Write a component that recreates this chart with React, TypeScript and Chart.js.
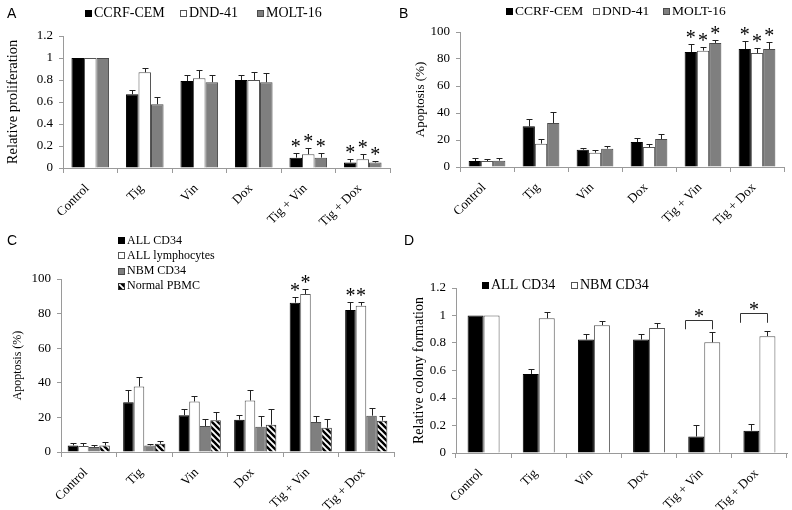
import React, { useEffect, useRef } from "react";
import { Chart, registerables } from "chart.js";

Chart.register(...registerables);

const SERIF = "'Liberation Serif', 'Times New Roman', serif";
const SANS = "'Liberation Sans', Arial, sans-serif";
const AXIS = "#9a9a9a";

const categories = ["Control", "Tig", "Vin", "Dox", "Tig + Vin", "Tig + Dox"];

// Panel A - relative proliferation
const aLabels = ["CCRF-CEM", "DND-41", "MOLT-16"];
const aCCRF = [1.0, 0.67, 0.79, 0.8, 0.094, 0.05];
const aCCRFErr = [0, 0.04, 0.055, 0.045, 0.04, 0.03];
const aDND = [1.0, 0.87, 0.815, 0.8, 0.125, 0.08];
const aDNDErr = [0, 0.035, 0.075, 0.075, 0.06, 0.05];
const aMOLT = [1.0, 0.58, 0.78, 0.78, 0.094, 0.05];
const aMOLTErr = [0, 0.07, 0.065, 0.085, 0.04, 0.01];
const aStars = [false, false, false, false, true, true];
const aTicks = [0, 0.2, 0.4, 0.6, 0.8, 1, 1.2];

// Panel B - apoptosis (%) cell lines
const bLabels = ["CCRF-CEM", "DND-41", "MOLT-16"];
const bCCRF = [4.4, 30.1, 12.8, 18.5, 85.2, 87.4];
const bCCRFErr = [2.5, 5.7, 1.5, 3.2, 5.7, 6.0];
const bDND = [4.4, 17.3, 10.6, 14.8, 86.2, 84.4];
const bDNDErr = [1.8, 3.7, 1.7, 2.0, 2.7, 3.7];
const bMOLT = [4.7, 32.6, 13.6, 20.7, 91.9, 87.4];
const bMOLTErr = [2.0, 8.0, 1.7, 3.7, 2.4, 5.4];
const bStars = [false, false, false, false, true, true];
const bTicks = [0, 20, 40, 60, 80, 100];

// Panel C - apoptosis (%) primary cells
const cLabels = ["ALL CD34", "ALL lymphocytes", "NBM CD34", "Normal PBMC"];
const cAllCD34 = [3.8, 28.7, 21.3, 18.7, 86.3, 82.1];
const cAllCD34Err = [1.4, 7.3, 3.7, 2.8, 3.1, 4.6];
const cAllLym = [3.5, 37.9, 29.2, 29.8, 91.3, 84.6];
const cAllLymErr = [1.7, 5.2, 2.9, 6.3, 2.7, 2.3];
const cNbm = [2.9, 3.8, 15.0, 14.6, 17.3, 21.0];
const cNbmErr = [1.3, 1.0, 4.0, 6.4, 3.7, 4.4];
const cPbmc = [3.8, 4.8, 18.3, 15.8, 14.0, 18.1];
const cPbmcErr = [1.8, 1.4, 4.8, 9.2, 5.0, 2.9];
const cStars = [false, false, false, false, true, true];
const cNoStars = [false, false, false, false, false, false];
const cTicks = [0, 20, 40, 60, 80, 100];

// Panel D - relative colony formation
const dLabels = ["ALL CD34", "NBM CD34"];
const dAll = [1.0, 0.575, 0.825, 0.825, 0.12, 0.162];
const dAllErr = [0, 0.035, 0.04, 0.043, 0.085, 0.048];
const dNbm = [1.0, 0.98, 0.93, 0.91, 0.805, 0.85];
const dNbmErr = [0, 0.045, 0.03, 0.032, 0.075, 0.035];
const dBracketIdx = [4, 5];
const dBracketTop = [0.967, 1.018];
const dBracketLeg = [0.9, 0.947];
const dTicks = [0, 0.2, 0.4, 0.6, 0.8, 1, 1.2];

const BLACK = { backgroundColor: "#000000", borderColor: "#000000" };
const WHITE = { backgroundColor: "#ffffff", borderColor: "#555555" };
const GRAY = { backgroundColor: "#7f7f7f", borderColor: "#4a4a4a" };

function makeHatch(): any {
  const s = 6;
  const c = document.createElement("canvas");
  c.width = s;
  c.height = s;
  const g = c.getContext("2d")!;
  g.fillStyle = "#ffffff";
  g.fillRect(0, 0, s, s);
  g.strokeStyle = "#000000";
  g.lineWidth = 2.4;
  g.lineCap = "square";
  for (const k of [-s, 0, s]) {
    g.beginPath();
    g.moveTo(k, 0);
    g.lineTo(k + s, s);
    g.stroke();
  }
  return g.createPattern(c, "repeat");
}

function drawStar(ctx: CanvasRenderingContext2D, x: number, cy: number, font: string) {
  ctx.font = font;
  ctx.textAlign = "center";
  ctx.textBaseline = "alphabetic";
  ctx.fillStyle = "#000";
  const m = ctx.measureText("*");
  const asc = m.actualBoundingBoxAscent || 12;
  const desc = m.actualBoundingBoxDescent || -5;
  const baseline = cy - (desc - asc) / 2;
  ctx.fillText("*", x, baseline);
}

const extrasPlugin = {
  id: "extras",
  afterDatasetsDraw(chart: any) {
    const ctx: CanvasRenderingContext2D = chart.ctx;
    const ys = chart.scales.y;
    const o = chart.options.plugins.extras || {};
    const starFont = `20px ${SERIF}`;
    ctx.save();
    chart.data.datasets.forEach((ds: any, i: number) => {
      const meta = chart.getDatasetMeta(i);
      meta.data.forEach((bar: any, j: number) => {
        const v = ds.data[j];
        const e = ds.errors ? ds.errors[j] : 0;
        const yTop = ys.getPixelForValue(v + e);
        const x = Math.round(bar.x) + 0.5;
        if (e > 0) {
          const yt = Math.round(yTop) + 0.5;
          ctx.strokeStyle = "#222";
          ctx.lineWidth = 1;
          ctx.beginPath();
          ctx.moveTo(x, bar.y);
          ctx.lineTo(x, yt);
          ctx.moveTo(x - 3, yt);
          ctx.lineTo(x + 3, yt);
          ctx.stroke();
        }
        if (ds.stars && ds.stars[j]) {
          drawStar(ctx, bar.x, yTop - 10, starFont);
        }
      });
    });
    if (o.brackets) {
      const b = o.brackets;
      const m0 = chart.getDatasetMeta(0);
      const m1 = chart.getDatasetMeta(1);
      b.idx.forEach((idx: number, k: number) => {
        const b0 = m0.data[idx];
        const b1 = m1.data[idx];
        const left = Math.round(b0.x - 0.7 * b0.width) + 0.5;
        const right = Math.round(b1.x) + 0.5;
        const top = Math.round(ys.getPixelForValue(b.top[k])) + 0.5;
        const leg = ys.getPixelForValue(b.leg[k]);
        ctx.strokeStyle = "#333";
        ctx.lineWidth = 1;
        ctx.beginPath();
        ctx.moveTo(left, leg);
        ctx.lineTo(left, top);
        ctx.lineTo(right, top);
        ctx.lineTo(right, leg);
        ctx.stroke();
        drawStar(ctx, (left + right) / 2, top - 8, starFont);
      });
    }
    ctx.restore();
  },
  afterDraw(chart: any) {
    const ctx: CanvasRenderingContext2D = chart.ctx;
    const o = chart.options.plugins.extras || {};
    ctx.save();
    if (o.letter) {
      ctx.font = `14px ${SANS}`;
      ctx.fillStyle = "#000";
      ctx.textAlign = "left";
      ctx.textBaseline = "alphabetic";
      ctx.fillText(o.letter.text, o.letter.x, o.letter.y);
    }
    if (o.legend) {
      const lg = o.legend;
      const box = 7;
      chart.data.datasets.forEach((ds: any, i: number) => {
        const pos = lg.items[i];
        if (!pos) return;
        const bx = pos.x;
        const by = Math.round(pos.y - box / 2 + 1);
        ctx.fillStyle = ds.backgroundColor;
        ctx.fillRect(bx, by, box, box);
        ctx.strokeStyle = ds.borderColor;
        ctx.lineWidth = 1;
        ctx.strokeRect(bx + 0.5, by + 0.5, box - 1, box - 1);
        ctx.font = `${lg.size}px ${SERIF}`;
        ctx.fillStyle = "#000";
        ctx.textAlign = "left";
        ctx.textBaseline = "middle";
        ctx.fillText(ds.label, bx + box + 2, pos.y + 1);
      });
    }
    ctx.restore();
  },
};

function xScale(height: number, size: number) {
  return {
    type: "category",
    offset: true,
    grid: {
      display: true,
      offset: true,
      drawOnChartArea: false,
      drawTicks: true,
      tickLength: 5,
      color: AXIS,
    },
    border: { display: true, color: AXIS, width: 1 },
    ticks: {
      color: "#000",
      font: { family: SERIF, size },
      minRotation: 45,
      maxRotation: 45,
      autoSkip: false,
      padding: 8,
      labelOffset: -3,
    },
    afterFit: (s: any) => {
      s.height = height;
      s.paddingLeft = 0;
      s.paddingRight = 0;
    },
  };
}

function yScale(
  width: number,
  tickVals: number[],
  title: string,
  titleSize: number,
  titlePad: number,
  tickSize: number
) {
  return {
    type: "linear",
    min: tickVals[0],
    max: tickVals[tickVals.length - 1],
    grid: {
      display: true,
      drawOnChartArea: false,
      drawTicks: true,
      tickLength: 4,
      color: AXIS,
    },
    border: { display: true, color: AXIS, width: 1 },
    ticks: {
      color: "#000",
      font: { family: SERIF, size: tickSize },
      padding: 6,
      callback: (v: any) => String(v),
    },
    afterBuildTicks: (s: any) => {
      s.ticks = tickVals.map((v) => ({ value: v }));
    },
    title: {
      display: true,
      text: title,
      color: "#000",
      font: { family: SERIF, size: titleSize },
      padding: { top: titlePad, bottom: 0 },
    },
    afterFit: (s: any) => {
      s.width = width;
      s.paddingTop = 0;
      s.paddingBottom = 0;
    },
  };
}

function barDs(label: string, data: number[], errors: number[], stars: boolean[], style: any, catPct: number) {
  return {
    label,
    data,
    errors,
    stars,
    ...style,
    borderWidth: 1,
    categoryPercentage: catPct,
    barPercentage: 1,
  };
}

function baseOptions(padding: any, extras: any, scales: any) {
  return {
    responsive: false,
    animation: false,
    layout: { padding },
    plugins: {
      legend: { display: false },
      tooltip: { enabled: false },
      extras,
    },
    scales,
  };
}

export default function App() {
  const refA = useRef<HTMLCanvasElement>(null);
  const refB = useRef<HTMLCanvasElement>(null);
  const refC = useRef<HTMLCanvasElement>(null);
  const refD = useRef<HTMLCanvasElement>(null);

  useEffect(() => {
    const hatch = makeHatch();
    const HATCH = { backgroundColor: hatch, borderColor: "#333333" };
    const charts: Chart[] = [];

    charts.push(
      new Chart(refA.current!, {
        type: "bar",
        data: {
          labels: categories,
          datasets: [
            barDs(aLabels[0], aCCRF, aCCRFErr, aStars, BLACK, 0.69),
            barDs(aLabels[1], aDND, aDNDErr, aStars, WHITE, 0.69),
            barDs(aLabels[2], aMOLT, aMOLTErr, aStars, GRAY, 0.69),
          ],
        },
        options: baseOptions(
          { top: 36, right: 6, left: 0, bottom: 0 },
          {
            letter: { text: "A", x: 7, y: 18 },
            legend: { size: 14, items: [{ x: 85, y: 12 }, { x: 180, y: 12 }, { x: 257, y: 12 }] },
          },
          {
            x: xScale(60, 13),
            y: yScale(63, aTicks, "Relative proliferation", 14.5, 4, 13),
          }
        ),
        plugins: [extrasPlugin],
      } as any)
    );

    charts.push(
      new Chart(refB.current!, {
        type: "bar",
        data: {
          labels: categories,
          datasets: [
            barDs(bLabels[0], bCCRF, bCCRFErr, bStars, BLACK, 0.68),
            barDs(bLabels[1], bDND, bDNDErr, bStars, WHITE, 0.68),
            barDs(bLabels[2], bMOLT, bMOLTErr, bStars, GRAY, 0.68),
          ],
        },
        options: baseOptions(
          { top: 32, right: 8, left: 0, bottom: 0 },
          {
            letter: { text: "B", x: 3, y: 18 },
            legend: { size: 13.5, items: [{ x: 110, y: 10 }, { x: 197, y: 10 }, { x: 267, y: 10 }] },
          },
          {
            x: xScale(61, 13),
            y: yScale(64, bTicks, "Apoptosis (%)", 13, 17, 13),
          }
        ),
        plugins: [extrasPlugin],
      } as any)
    );

    charts.push(
      new Chart(refC.current!, {
        type: "bar",
        data: {
          labels: categories,
          datasets: [
            barDs(cLabels[0], cAllCD34, cAllCD34Err, cStars, BLACK, 0.76),
            barDs(cLabels[1], cAllLym, cAllLymErr, cStars, WHITE, 0.76),
            barDs(cLabels[2], cNbm, cNbmErr, cNoStars, GRAY, 0.76),
            barDs(cLabels[3], cPbmc, cPbmcErr, cNoStars, HATCH, 0.76),
          ],
        },
        options: baseOptions(
          { top: 51, right: 2, left: 0, bottom: 0 },
          {
            letter: { text: "C", x: 7, y: 17 },
            legend: {
              size: 12,
              items: [
                { x: 118, y: 11.5 },
                { x: 118, y: 26.8 },
                { x: 118, y: 42 },
                { x: 118, y: 57.3 },
              ],
            },
          },
          {
            x: xScale(58, 13),
            y: yScale(61, cTicks, "Apoptosis (%)", 12, 11, 13),
          }
        ),
        plugins: [extrasPlugin],
      } as any)
    );

    charts.push(
      new Chart(refD.current!, {
        type: "bar",
        data: {
          labels: categories,
          datasets: [
            barDs(dLabels[0], dAll, dAllErr, cNoStars, BLACK, 0.58),
            barDs(dLabels[1], dNbm, dNbmErr, cNoStars, WHITE, 0.58),
          ],
        },
        options: baseOptions(
          { top: 60, right: 5, left: 0, bottom: 0 },
          {
            letter: { text: "D", x: 8, y: 17 },
            legend: { size: 14, items: [{ x: 86, y: 56 }, { x: 175, y: 56 }] },
            brackets: { idx: dBracketIdx, top: dBracketTop, leg: dBracketLeg },
          },
          {
            x: xScale(57, 13),
            y: yScale(60, dTicks, "Relative colony formation", 14, 14.6, 13),
          }
        ),
        plugins: [extrasPlugin],
      } as any)
    );

    return () => {
      charts.forEach((c) => c.destroy());
    };
  }, []);

  const cell = (left: number, top: number, h: number) => ({
    position: "absolute" as const,
    left,
    top,
    width: 396,
    height: h,
  });

  return (
    <div style={{ position: "absolute", left: 0, top: 0, width: 792, height: 510, background: "#fff", overflow: "hidden" }}>
      <div style={cell(0, 0, 228)}>
        <canvas ref={refA} width={396} height={228} style={{ display: "block" }} />
      </div>
      <div style={cell(396, 0, 228)}>
        <canvas ref={refB} width={396} height={228} style={{ display: "block" }} />
      </div>
      <div style={cell(0, 228, 282)}>
        <canvas ref={refC} width={396} height={282} style={{ display: "block" }} />
      </div>
      <div style={cell(396, 228, 282)}>
        <canvas ref={refD} width={396} height={282} style={{ display: "block" }} />
      </div>
    </div>
  );
}
